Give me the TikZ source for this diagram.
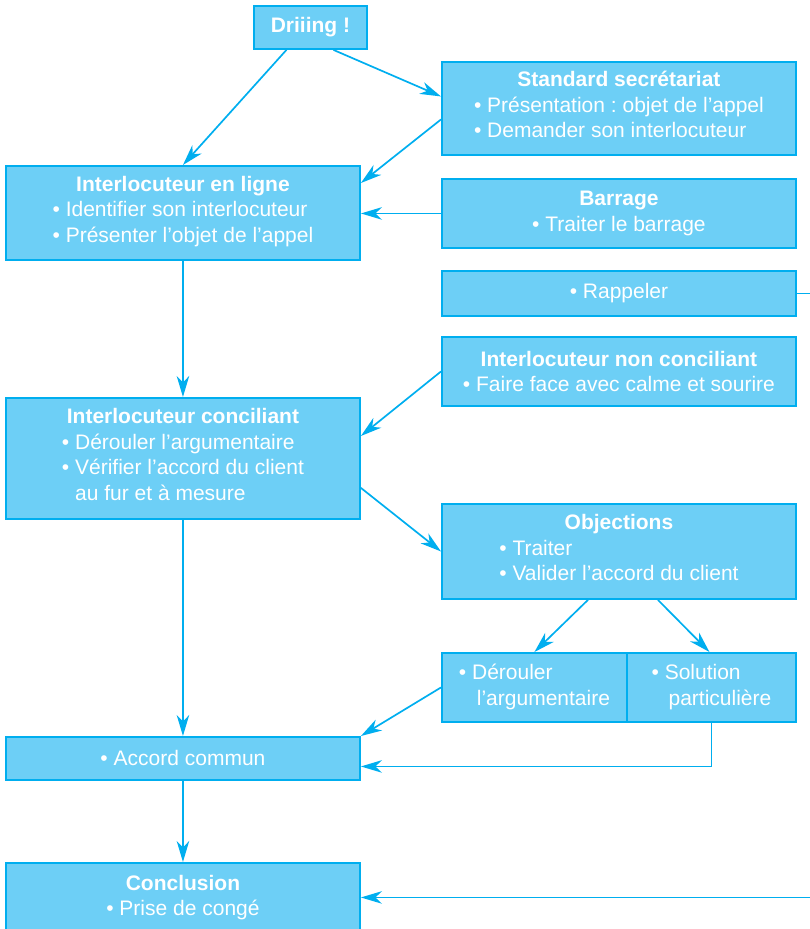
\documentclass[tikz,border=0pt]{standalone}
\usepackage{fontspec}
\setmainfont{Liberation Sans}
\usetikzlibrary{arrows.meta, calc}
\definecolor{cyanfill}{HTML}{6DCFF6}
\definecolor{cyanline}{HTML}{00AEEF}
\frenchspacing

% left-aligned bullet list inside a centred box
\newcommand{\blist}[1]{\begin{tabular}[t]{@{}l@{}}#1\end{tabular}}

\begin{document}
\begin{tikzpicture}[
  x=1pt, y=-1pt,
  >={Stealth[length=21pt, width=12.5pt, inset=6.5pt]},
  every node/.style={text=white, font=\fontsize{21}{25.5}\selectfont},
  box/.style={draw=cyanline, fill=cyanfill, line width=1.9pt, anchor=north west,
    inner sep=0pt, align=center},
  link/.style={draw=cyanline, line width=1.7pt},
]

% Page
\useasboundingbox (0,0) rectangle (810,929);

% ============ Boxes ============
\node[box, minimum width=113pt, minimum height=43pt] (driiing) at (253,5)
  {\textbf{Driiing !}};

\node[box, minimum width=354pt, minimum height=93pt] (secretariat) at (441,61)
  {\textbf{Standard secrétariat}\\
   \blist{• Présentation : objet de l’appel\\ • Demander son interlocuteur}};

\node[box, minimum width=354pt, minimum height=94pt] (ligne) at (5,165)
  {\textbf{Interlocuteur en ligne}\\
   \blist{• Identifier son interlocuteur\\ • Présenter l’objet de l’appel}};

\node[box, minimum width=354pt, minimum height=69pt] (barrage) at (441,178)
  {\textbf{Barrage}\\ • Traiter le barrage};

\node[box, minimum width=354pt, minimum height=45pt] (rappeler) at (441,270)
  {• Rappeler};

\node[box, minimum width=354pt, minimum height=69pt] (nonconc) at (441,336)
  {\textbf{Interlocuteur non conciliant}\\ • Faire face avec calme et sourire};

\node[box, minimum width=354pt, minimum height=121pt] (conciliant) at (5,397)
  {\textbf{Interlocuteur conciliant}\\
   \blist{• Dérouler l’argumentaire\\ • Vérifier l’accord du client\\
   \hphantom{• }au fur et à mesure}};

\node[box, minimum width=354pt, minimum height=95pt] (objections) at (441,503)
  {\textbf{Objections}\\
   \blist{• Traiter\\ • Valider l’accord du client}};

\node[box, minimum width=185pt, minimum height=69pt] (derouler) at (441,652)
  {\blist{• Dérouler\\ \hspace{18pt}l’argumentaire}};

\node[box, minimum width=169pt, minimum height=69pt] (solution) at (626,652)
  {\blist{• Solution\\ \hspace{17pt}particulière}};

\node[box, minimum width=354pt, minimum height=43pt] (accord) at (5,736)
  {• Accord commun};

\node[box, minimum width=354pt, minimum height=69pt] (conclusion) at (5,862)
  {\textbf{Conclusion}\\ • Prise de congé};

% ============ Connectors ============
\draw[link, ->] ($(driiing.south)+(-24,0)$) -- (ligne.north);
\draw[link, ->] ($(driiing.south)+(23,0)$) -- ($(secretariat.west)+(0,-12)$);
\draw[link, ->] ($(secretariat.west)+(0,11)$) -- ($(ligne.north east)+(0,18)$);
\draw[link, ->] (barrage.west) -- (barrage.west -| ligne.east);

% Rappeler runs off the page to the conclusion
\coordinate (bord) at ($(rappeler.east)+(25,0)$);
\draw[link, ->] (rappeler.east) -- (bord) |- (conclusion.east);

\draw[link, ->] (ligne.south) -- (conciliant.north);
\draw[link, ->] (nonconc.west) -- ($(conciliant.north east)+(0,39)$);
\draw[link, ->] ($(conciliant.south east)+(0,-32)$) -- (objections.west);
\draw[link, ->] (conciliant.south) -- (accord.north);

\draw[link, ->] ($(objections.south)+(-31,0)$) -- (derouler.north);
\draw[link, ->] ($(objections.south)+(39,0)$) -- ($(solution.north)+(-2,0)$);
\draw[link, ->] (derouler.west) -- (accord.north east);
\draw[link, ->] (solution.south) |- ($(accord.east)+(0,8)$);

\draw[link, ->] (accord.south) -- (conclusion.north);

\end{tikzpicture}
\end{document}
